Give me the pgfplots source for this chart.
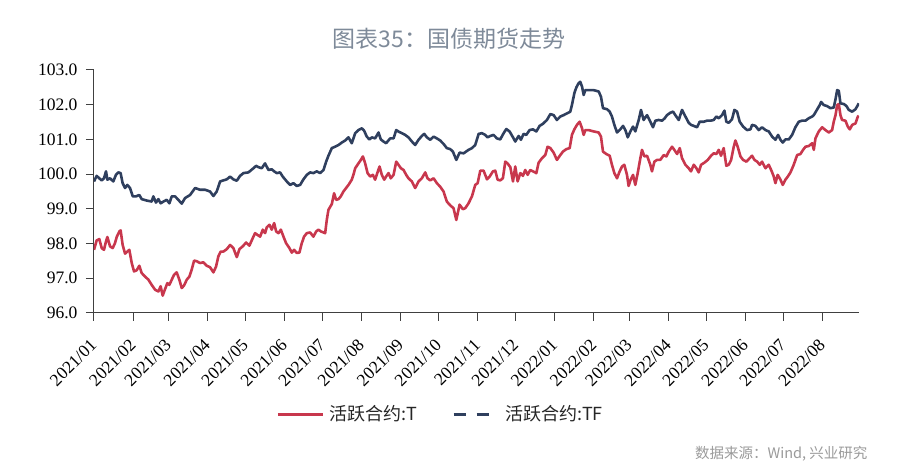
\documentclass[border=0pt]{standalone}
\usepackage{fontspec}
\setmainfont{Liberation Serif}
\newfontfamily\cjk{Noto Sans CJK SC}
\usepackage{pgfplots}
\usepackage{pgfplotstable}
\pgfplotsset{compat=1.18}
\definecolor{tred}{HTML}{C8374D}
\definecolor{tfnavy}{HTML}{2F3F5E}
\definecolor{titlegray}{HTML}{7E8A99}
\definecolor{srcgray}{HTML}{9A9A9A}
\definecolor{axgray}{HTML}{404040}

\pgfplotstableread{
d v
0 99.79
2.1 99.95
4.2 99.88
6.1 99.82
7.9 99.88
9.5 100.08
10.6 99.84
12.7 99.88
15.3 99.79
17.4 99.98
19.3 100.05
21.1 100.03
22.7 99.74
24.6 99.60
26.4 99.69
28.5 99.60
30.7 99.36
33.3 99.36
35.9 99.40
37.8 99.28
41.7 99.24
45.7 99.21
47.0 99.36
49.1 99.18
51.0 99.28
52.8 99.16
55.0 99.21
57.6 99.26
59.7 99.16
61.6 99.36
64.2 99.36
66.8 99.26
69.5 99.15
72.1 99.31
76.1 99.40
80.1 99.60
84.0 99.55
88.0 99.55
91.9 99.50
94.6 99.37
97.2 99.50
99.9 99.79
102.5 99.82
105.2 99.85
107.8 99.93
110.4 99.85
113.1 99.81
115.7 99.95
118.4 100.03
122.3 100.05
126.3 100.17
128.4 100.24
130.3 100.20
132.9 100.17
135.5 100.31
138.2 100.12
140.8 100.14
142.7 100.08
144.8 100.03
147.4 100.05
149.5 99.93
152.7 99.79
155.4 99.69
158.0 99.74
160.6 99.66
163.3 99.69
165.9 99.85
168.6 99.98
171.2 100.05
173.8 100.03
176.5 100.08
179.1 100.03
181.8 100.12
183.9 100.36
185.7 100.53
188.4 100.75
191.0 100.79
193.7 100.84
196.3 100.91
199.0 100.97
201.6 101.06
204.2 100.89
206.9 101.18
209.5 101.27
212.2 101.32
214.0 101.25
216.1 101.08
218.2 101.00
220.1 101.06
222.7 101.03
225.4 101.20
227.2 101.00
229.3 100.94
231.4 100.89
234.6 101.03
237.3 101.03
239.4 101.27
241.5 101.22
243.9 101.18
246.5 101.13
249.1 101.06
251.8 100.94
254.4 100.84
257.1 100.99
259.7 101.10
261.6 101.16
263.7 101.06
266.3 100.99
269.0 101.08
271.6 101.03
274.2 100.97
276.9 100.87
279.5 100.75
282.2 100.72
284.3 100.65
287.0 100.41
289.6 100.62
292.8 100.60
296.7 100.70
299.4 100.75
302.0 100.84
304.7 101.16
307.3 101.18
309.9 101.13
311.8 101.06
313.9 101.10
316.5 101.13
319.2 101.03
321.8 101.00
324.5 101.18
326.6 101.30
329.2 101.23
331.9 101.06
333.7 100.94
336.4 101.10
338.2 100.99
340.3 101.16
342.4 101.13
345.1 101.27
347.7 101.29
350.4 101.23
353.0 101.39
355.6 101.45
358.8 101.56
361.5 101.73
364.1 101.70
366.7 101.56
369.4 101.66
372.0 101.70
374.7 101.75
377.3 101.80
378.6 101.99
380.5 102.33
382.1 102.50
383.9 102.62
385.2 102.66
386.6 102.52
387.9 102.28
389.2 102.42
391.8 102.42
395.8 102.42
399.8 102.38
401.6 102.23
403.2 101.90
406.4 101.87
408.5 101.80
410.3 101.66
412.2 101.42
414.3 101.20
416.9 101.29
419.1 101.39
420.9 101.27
422.8 101.06
424.9 101.23
427.0 101.37
428.8 101.23
431.5 101.56
433.3 101.85
435.4 101.56
438.1 101.70
440.7 101.51
442.8 101.35
444.7 101.54
447.3 101.56
450.0 101.54
452.1 101.61
453.9 101.70
456.6 101.77
458.7 101.80
460.5 101.70
463.2 101.56
465.8 101.85
468.5 101.66
471.1 101.48
472.9 101.42
475.1 101.39
477.7 101.35
479.8 101.51
483.0 101.51
485.6 101.54
488.3 101.54
490.9 101.56
493.0 101.66
494.9 101.61
497.5 101.70
499.4 101.83
500.9 101.51
502.8 101.48
505.4 101.58
507.3 101.85
509.4 101.80
511.5 101.51
514.2 101.37
517.3 101.27
520.0 101.29
521.3 101.42
523.9 101.39
526.6 101.27
529.2 101.35
531.9 101.27
534.5 101.23
537.2 101.08
539.8 100.99
541.9 101.13
543.8 100.99
545.6 100.91
547.7 101.00
550.4 101.00
553.0 101.13
555.6 101.35
558.3 101.51
560.9 101.54
563.6 101.54
566.2 101.61
568.9 101.66
570.2 101.70
572.3 101.83
574.9 101.99
576.0 102.08
578.1 101.99
580.7 101.96
583.4 101.90
586.0 101.92
587.4 102.16
588.7 102.42
590.0 102.40
591.3 102.04
594.0 102.02
596.1 101.96
597.9 101.85
600.6 101.80
603.2 101.87
605.1 101.99
605.8 102.04
}\tfdata

\pgfplotstableread{
d v
0 97.82
2.1 98.09
4.2 98.13
6.1 97.87
7.9 97.82
9.5 98.06
10.6 98.19
12.7 97.92
14.8 97.87
16.6 98.01
18.0 98.19
20.1 98.35
21.1 98.38
22.7 97.96
24.6 97.71
26.4 97.77
28.0 97.82
29.9 97.44
31.7 97.20
33.8 97.23
35.9 97.36
37.8 97.15
40.4 97.05
43.1 96.96
45.7 96.81
48.4 96.67
51.0 96.62
52.8 96.77
54.4 96.50
56.3 96.69
58.1 96.86
59.7 96.81
61.6 96.96
63.4 97.10
65.5 97.17
67.6 96.96
69.5 96.72
71.3 96.79
73.5 96.96
75.6 97.05
77.4 97.25
79.3 97.51
81.4 97.49
84.0 97.44
86.7 97.46
89.3 97.36
91.9 97.32
94.6 97.17
96.7 97.34
98.5 97.63
100.4 97.77
102.5 97.77
105.2 97.84
107.8 97.96
110.4 97.87
113.1 97.61
115.2 97.84
117.8 97.92
120.5 98.03
123.1 97.94
125.8 98.16
127.6 98.30
129.5 98.25
131.6 98.20
133.7 98.40
135.5 98.30
136.9 98.47
139.0 98.54
140.8 98.40
142.7 98.59
144.3 98.35
146.1 98.30
148.0 98.40
150.1 98.20
152.2 98.01
154.8 97.87
156.7 97.74
158.5 97.82
160.6 97.73
162.7 97.74
164.6 98.01
166.4 98.20
168.6 98.30
171.2 98.32
173.8 98.20
176.0 98.35
177.8 98.40
179.7 98.35
181.8 98.32
183.1 98.30
184.4 98.68
185.7 98.97
188.4 99.14
190.2 99.45
191.8 99.26
193.7 99.28
195.5 99.36
197.6 99.50
199.7 99.60
201.6 99.69
204.2 99.84
205.5 99.98
206.9 100.17
209.5 100.31
211.4 100.41
213.0 100.51
214.8 100.31
216.7 100.03
218.8 99.93
220.9 99.98
222.7 99.84
224.6 100.05
226.2 100.22
228.0 99.98
229.9 99.84
231.4 99.93
233.3 100.03
235.1 99.88
237.3 99.98
239.4 100.36
241.2 100.27
243.1 100.17
245.2 100.12
247.3 99.98
249.1 99.88
251.8 99.79
254.4 99.60
257.1 99.79
259.7 99.88
262.4 100.05
264.2 99.88
266.3 99.82
269.0 99.88
271.6 99.74
274.2 99.64
276.9 99.50
279.5 99.21
282.2 99.10
284.8 99.02
287.0 98.68
289.6 99.12
292.2 98.99
294.1 99.02
296.7 99.16
299.4 99.36
302.0 99.69
303.9 99.74
306.0 100.10
308.6 100.10
311.3 99.85
313.4 99.93
316.0 100.08
317.9 100.10
319.7 99.84
321.8 99.82
323.9 99.88
325.8 100.36
327.6 100.31
329.8 100.20
331.9 99.79
333.7 100.22
335.6 99.79
337.7 100.03
339.8 99.95
341.6 100.12
343.5 99.98
345.6 100.12
347.7 100.08
350.4 100.03
352.2 100.33
354.9 100.46
357.5 100.55
359.3 100.79
361.5 100.75
364.1 100.62
366.7 100.41
369.4 100.55
371.5 100.65
374.1 100.72
376.8 100.75
378.6 101.13
380.5 101.29
382.6 101.42
384.7 101.51
386.6 101.32
387.9 101.13
389.2 101.27
391.8 101.27
395.8 101.23
399.8 101.20
401.6 101.08
403.2 100.65
405.8 100.58
408.5 100.53
410.3 100.27
412.2 100.03
414.3 99.88
416.4 100.08
418.3 100.22
420.1 100.27
422.2 99.98
423.5 99.66
424.9 99.82
427.0 99.98
428.8 99.69
430.7 100.03
432.8 100.46
434.1 100.70
436.0 100.51
438.1 100.53
440.7 100.27
442.0 100.08
443.9 100.36
446.0 100.41
448.6 100.41
451.3 100.55
453.4 100.51
455.3 100.65
457.9 100.79
459.7 100.70
461.9 100.58
464.0 100.75
465.8 100.46
468.5 100.27
471.1 100.17
472.9 100.08
475.1 100.27
477.2 100.17
479.0 100.05
480.9 100.27
483.5 100.33
486.2 100.41
488.8 100.53
490.9 100.60
493.0 100.58
494.9 100.70
496.7 100.53
498.8 100.75
500.9 100.24
502.8 100.27
504.7 100.41
506.8 100.79
508.1 100.97
509.9 100.79
512.1 100.51
514.2 100.41
516.8 100.36
519.4 100.46
521.3 100.53
523.2 100.41
525.3 100.36
527.4 100.27
529.2 100.36
531.9 100.17
534.5 100.27
536.4 100.12
538.5 99.93
539.8 99.74
541.6 99.98
543.8 99.84
545.6 99.69
547.7 99.84
549.6 99.93
551.7 100.05
554.3 100.27
557.0 100.55
559.6 100.58
561.7 100.70
563.6 100.79
566.2 100.81
568.9 100.89
570.2 100.70
571.5 101.03
574.1 101.23
576.8 101.35
579.4 101.27
582.1 101.20
584.7 101.27
586.0 101.51
587.4 101.70
588.7 101.99
590.0 102.02
591.3 101.70
592.6 101.56
595.3 101.54
597.1 101.37
598.7 101.29
600.6 101.42
603.2 101.46
605.1 101.66
605.8 101.68
}\tdata

\begin{document}
\begin{tikzpicture}[x=1pt,y=1pt]
\useasboundingbox (0,0) rectangle (900,473);
\node[font=\cjk\fontsize{23}{26}\selectfont, text=titlegray] at (449,434) {图表35：国债期货走势};
\begin{axis}[
  at={(94pt,160pt)}, anchor=south west,
  scale only axis, width=765pt, height=243pt,
  xmin=0, xmax=606, ymin=96, ymax=103,
  axis lines=left, axis line style={-, axgray, line width=1pt},
  tick align=outside, major tick length=8pt,
  tick style={axgray, line width=1pt},
  xtick={0,31,59,90,120,151,181,212,243,273,304,334,365,396,424,455,485,516,546,577},
  xticklabels={2021/01,2021/02,2021/03,2021/04,2021/05,2021/06,2021/07,2021/08,2021/09,2021/10,2021/11,2021/12,2022/01,2022/02,2022/03,2022/04,2022/05,2022/06,2022/07,2022/08},
  ytick={96,97,...,103},
  /pgf/number format/assume math mode=true,
  yticklabel style={xshift=-5pt, /pgf/number format/fixed, /pgf/number format/fixed zerofill, /pgf/number format/precision=1, font=\fontsize{17.5}{20}\selectfont, text=black},
  xticklabel style={yshift=-19pt, xshift=2pt, rotate=45, anchor=east, font=\fontsize{17.5}{20}\selectfont, text=black},
  legend columns=2,
  legend style={at={(0.455,-0.416)}, anchor=center, draw=none, fill=none,
    font=\cjk\fontsize{18}{20}\selectfont, text=black!85,
    nodes={inner xsep=5pt},
    /tikz/every even column/.append style={column sep=30pt}},
  legend image code/.code={\draw[#1] (0pt,0pt) -- (45pt,0pt);},
]
\addplot[tred, line width=2.6pt, line join=round, forget plot] table[x=d,y=v] {\tdata};
\addplot[tfnavy, line width=2.6pt, line join=round, forget plot] table[x=d,y=v] {\tfdata};
\addlegendimage{tred, line width=3pt}
\addlegendentry{活跃合约:T}
\addlegendimage{tfnavy, line width=3pt, dash pattern=on 12pt off 11pt}
\addlegendentry{活跃合约:TF}
\end{axis}
\node[anchor=east, font=\cjk\fontsize{14.5}{16}\selectfont, text=srcgray] at (871,19.5) {数据来源：Wind, 兴业研究};
\end{tikzpicture}
\end{document}
